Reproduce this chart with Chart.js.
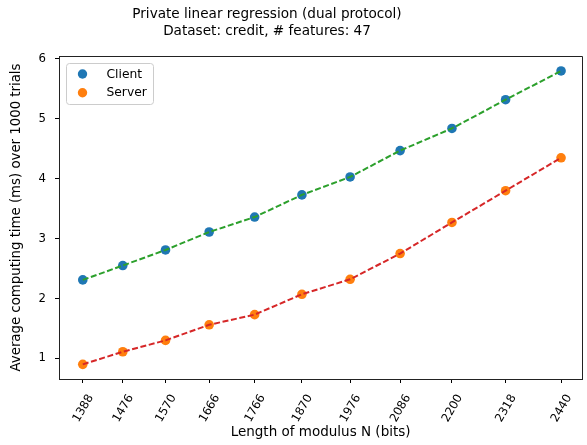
<!DOCTYPE html>
<html>
<head>
<meta charset="utf-8">
<script src="https://cdn.jsdelivr.net/npm/chart.js@4.4.0/dist/chart.umd.min.js"></script>
<style>
  html, body { margin: 0; padding: 0; background: #fff; overflow: hidden; }
</style>
</head>
<body>
<canvas id="chart" width="587" height="445"></canvas>
<script>
const modulusBits = [1388, 1476, 1570, 1666, 1766, 1870, 1976, 2086, 2200, 2318, 2440];
const clientMs = [2.31, 2.55, 2.81, 3.11, 3.36, 3.73, 4.03, 4.47, 4.84, 5.32, 5.80];
const serverMs = [0.90, 1.11, 1.30, 1.56, 1.73, 2.07, 2.32, 2.75, 3.27, 3.80, 4.35];
const yTicks = [1, 2, 3, 4, 5, 6];
const titleLines = ["Private linear regression (dual protocol)", "Dataset: credit, # features: 47"];

const FONT = "'DejaVu Sans', sans-serif";
const pts = (ys) => modulusBits.map((x, i) => ({ x: x, y: ys[i] }));

// title, top/right spines and the boxed legend, matplotlib-style
const extras = {
  id: "extras",
  afterDatasetsDraw(chart) {
    const ctx = chart.ctx;
    const a = chart.chartArea;
    ctx.save();
    ctx.strokeStyle = "#222";
    ctx.lineWidth = 1;
    ctx.beginPath();
    ctx.moveTo(Math.round(a.left) + 0.5, Math.round(a.top) + 0.5);
    ctx.lineTo(Math.round(a.right) + 0.5, Math.round(a.top) + 0.5);
    ctx.lineTo(Math.round(a.right) + 0.5, Math.round(a.bottom) + 0.5);
    ctx.stroke();

    // title
    ctx.fillStyle = "#000";
    ctx.font = "13.6px " + FONT;
    ctx.textAlign = "center";
    ctx.textBaseline = "middle";
    ctx.fillText(titleLines[0], 267, 14);
    ctx.fillText(titleLines[1], 267, 31);

    // legend
    const lx = a.left + 7.5, ly = a.top + 7.5, lw = 87, lh = 41;
    ctx.fillStyle = "rgba(255,255,255,0.8)";
    ctx.strokeStyle = "#cccccc";
    ctx.beginPath();
    ctx.roundRect(lx, ly, lw, lh, 3);
    ctx.fill();
    ctx.stroke();
    const items = chart.data.datasets.filter(d => d.showLine === false);
    ctx.font = "12.3px " + FONT;
    ctx.textAlign = "left";
    items.forEach((d, i) => {
      const cy = ly + 10.5 + i * 18.7;
      ctx.fillStyle = d.backgroundColor;
      ctx.beginPath();
      ctx.arc(lx + 16, cy, 4.7, 0, Math.PI * 2);
      ctx.fill();
      ctx.fillStyle = "#000";
      ctx.fillText(d.label, lx + 40, cy + 0.5);
    });
    ctx.restore();
  }
};

new Chart(document.getElementById("chart"), {
  type: "line",
  data: {
    datasets: [
      { label: "client fit", data: pts(clientMs), borderColor: "#2ca02c", borderWidth: 2,
        borderDash: [6, 2.6], pointRadius: 0, tension: 0, fill: false, order: 0 },
      { label: "server fit", data: pts(serverMs), borderColor: "#d62728", borderWidth: 2,
        borderDash: [6, 2.6], pointRadius: 0, tension: 0, fill: false, order: 0 },
      { label: "Client", data: pts(clientMs), showLine: false, pointRadius: 4.8,
        backgroundColor: "#1f77b4", pointBorderWidth: 0, order: 1 },
      { label: "Server", data: pts(serverMs), showLine: false, pointRadius: 4.8,
        backgroundColor: "#ff7f0e", pointBorderWidth: 0, order: 1 }
    ]
  },
  options: {
    responsive: false,
    animation: false,
    devicePixelRatio: 1,
    layout: { padding: { top: 56, left: 0, right: 0, bottom: 0 } },
    plugins: {
      legend: { display: false },
      title: { display: false },
      tooltip: { enabled: false }
    },
    scales: {
      x: {
        type: "linear",
        min: 1335.7,
        max: 2486.5,
        afterBuildTicks: (s) => { s.ticks = modulusBits.map(v => ({ value: v })); },
        afterFit: (s) => { s.height = 66; s.paddingLeft = 0; s.paddingRight = 0; },
        grid: { drawOnChartArea: false, drawTicks: true, tickLength: 4, tickColor: "#000", tickWidth: 1 },
        border: { display: true, color: "#222", width: 1 },
        ticks: {
          autoSkip: false, minRotation: 60, maxRotation: 60, padding: 9, labelOffset: 8,
          color: "#000", font: { family: FONT, size: 11.7 },
          callback: (v) => String(v)
        },
        title: {
          display: true, text: "Length of modulus N (bits)", color: "#000",
          font: { family: FONT, size: 13.5 }, padding: { top: 0, bottom: 4.5 }
        }
      },
      y: {
        min: 0.655,
        max: 6.05,
        afterBuildTicks: (s) => { s.ticks = yTicks.map(v => ({ value: v })); },
        afterFit: (s) => { s.width = 59; },
        grid: { drawOnChartArea: false, drawTicks: true, tickLength: 4, tickColor: "#000", tickWidth: 1 },
        border: { display: true, color: "#222", width: 1 },
        ticks: { padding: 9, color: "#000", font: { family: FONT, size: 11.7 }, callback: (v) => String(v) },
        title: {
          display: true, text: "Average computing time (ms) over 1000 trials", color: "#000",
          font: { family: FONT, size: 13.3 }, padding: { top: 8.5, bottom: 0 }
        }
      }
    }
  },
  plugins: [extras]
});
</script>
</body>
</html>
